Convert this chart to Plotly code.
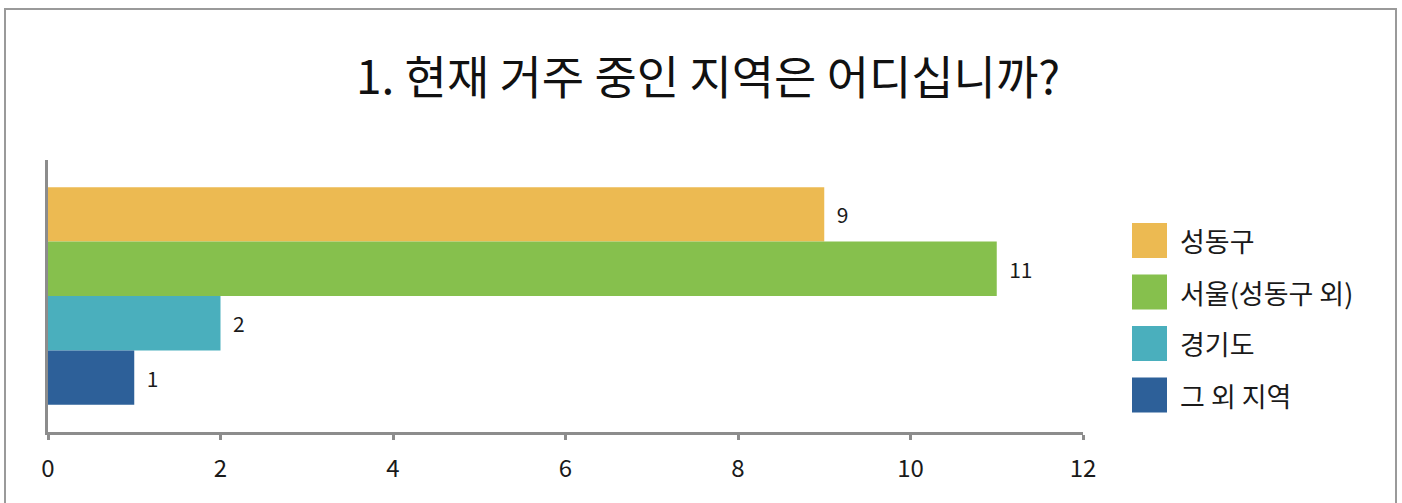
import plotly.graph_objects as go

# ---- data ----
question = "1. 현재 거주 중인 지역은 어디십니까?"
category = ["지역"]
series_names = ["성동구", "서울(성동구 외)", "경기도", "그 외 지역"]
series_values = [9, 11, 2, 1]
series_colors = ["#ECBA52", "#86C04D", "#4AAFBD", "#2D6099"]
x_ticks = [0, 2, 4, 6, 8, 10, 12]

W, H = 1402, 503
FONT = "Noto Sans CJK KR, Noto Sans, sans-serif"

# plot area in screen pixels
L, R, T, B = 48, 1083, 160, 432

def px_x(p):
    return (p - L) / (R - L)

def px_y(p):
    return (B - p) / (B - T)

fig = go.Figure()
for name, val, col in zip(series_names, series_values, series_colors):
    fig.add_trace(go.Bar(
        name=name, y=category, x=[val], orientation="h",
        marker=dict(color=col, line=dict(width=0)),
        text=["  " + str(val)], textposition="outside",
        textfont=dict(family=FONT, size=21, color="#1a1a1a"),
        cliponaxis=False, showlegend=False,
    ))

shapes = []
annotations = []
# outer frame
shapes.append(dict(type="rect", xref="paper", yref="paper",
                   x0=px_x(5), x1=px_x(1396), y0=px_y(520), y1=px_y(9),
                   line=dict(color="#9a9a9a", width=2), fillcolor="rgba(0,0,0,0)",
                   layer="below"))
# manual legend
leg_top = 223
leg_step = 51.5
sq = 35
for i, (name, col) in enumerate(zip(series_names, series_colors)):
    y0 = leg_top + i * leg_step
    shapes.append(dict(type="rect", xref="paper", yref="paper",
                       x0=px_x(1132), x1=px_x(1132 + sq),
                       y0=px_y(y0 + sq), y1=px_y(y0),
                       line=dict(width=0), fillcolor=col))
    annotations.append(dict(xref="paper", yref="paper", x=px_x(1178),
                            y=px_y(y0 + sq / 2), text=name, showarrow=False,
                            xanchor="left", yanchor="middle",
                            font=dict(family=FONT, size=27, color="#1a1a1a")))

fig.update_layout(
    width=W, height=H,
    margin=dict(l=L, r=W - R, t=T, b=H - B, pad=0),
    paper_bgcolor="white", plot_bgcolor="white",
    barmode="group", bargap=0.2, bargroupgap=0,
    title=dict(text=question, x=708 / W, xanchor="center", xref="container",
               y=1 - 78 / H, yanchor="middle", yref="container",
               font=dict(family=FONT, size=46, color="#111111")),
    xaxis=dict(range=[0, 12], tickvals=x_ticks, showgrid=False, zeroline=False,
               showline=True, linecolor="#8c8c8c", linewidth=3,
               ticks="outside", ticklen=5, tickwidth=3, tickcolor="#8c8c8c",
               ticklabelstandoff=8,
               tickfont=dict(family=FONT, size=24, color="#1a1a1a")),
    yaxis=dict(type="category", autorange="reversed", showticklabels=False,
               showgrid=False, zeroline=False, showline=True,
               linecolor="#8c8c8c", linewidth=3, ticks=""),
    shapes=shapes, annotations=annotations, showlegend=False,
)

fig.write_html("out.html",
               config={"displayModeBar": False},
               post_script="document.body.style.margin='0';document.body.style.overflow='hidden';")
